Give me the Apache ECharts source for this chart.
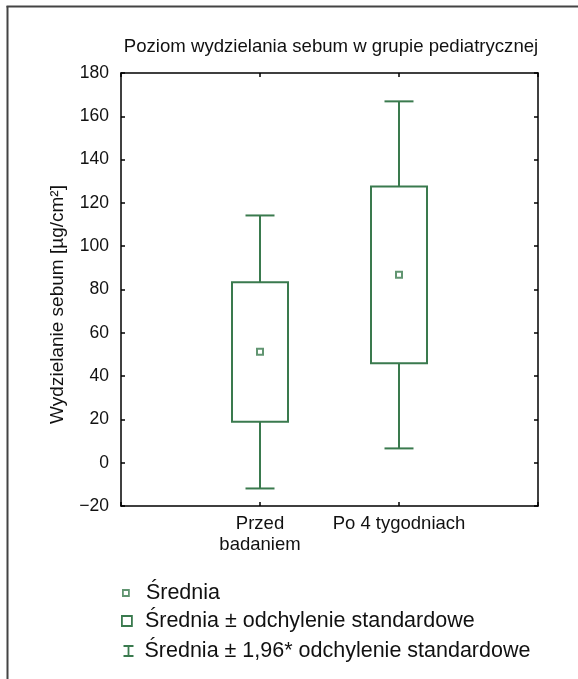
<!DOCTYPE html>
<html><head><meta charset="utf-8">
<script src="https://cdn.jsdelivr.net/npm/echarts@6/dist/echarts.min.js"></script>
<style>html,body{margin:0;padding:0;background:#fff}#c{width:578px;height:679px}</style>
</head><body><div id="c"></div>
<script>
// ---- data ----
const titleText = 'Poziom wydzielania sebum w grupie pediatrycznej';
const yAxisName = 'Wydzielanie sebum [µg/cm²]';
const categories = ['Przed\nbadaniem', 'Po 4 tygodniach'];
const categoryPositions = [1, 2];
const means  = [51.2, 86.8];
const sdLow  = [18.9, 45.9];
const sdHigh = [83.4, 127.6];
const ciLow  = [-11.9, 6.6];
const ciHigh = [114.2, 166.9];
const yMin = -20, yMax = 180, yStep = 20;
const legendNames = ['Średnia', 'Średnia ± odchylenie standardowe', 'Średnia ± 1,96* odchylenie standardowe'];

// ---- styling ----
const G = '#3a7a4e';
const FONT = '"Liberation Sans", Arial, sans-serif';
const chart = echarts.init(document.getElementById('c'), null, {renderer: 'canvas'});

const boxData = categoryPositions.map((p, i) => [p, sdLow[i], sdHigh[i]]);
const whiskerData = categoryPositions.map((p, i) => [p, ciLow[i], sdLow[i], sdHigh[i], ciHigh[i]]);
const meanData = categoryPositions.map((p, i) => [p, means[i]]);

const axisLine = {show: true, onZero: false, lineStyle: {color: '#000', width: 1.5}};
const tick = {show: true, inside: true, length: 4, lineStyle: {color: '#000', width: 1.5}};

const option = {
  animation: false,
  backgroundColor: '#fff',
  textStyle: {fontFamily: FONT},
  title: {
    text: titleText, left: 326, top: 32, textAlign: 'center',
    textStyle: {fontSize: 18.6, fontWeight: 'normal', color: '#111', fontFamily: FONT}
  },
  grid: {left: 121, right: 40, top: 73, bottom: 173, containLabel: false},
  xAxis: [{
    type: 'value', min: 0, max: 3, interval: 1, position: 'bottom',
    axisLine, axisTick: tick, splitLine: {show: false},
    axisLabel: {
      margin: 7, fontSize: 18.5, color: '#111', fontFamily: FONT, lineHeight: 21,
      formatter: v => { const i = categoryPositions.indexOf(v); return i >= 0 ? categories[i] : ''; }
    }
  }, {
    type: 'value', min: 0, max: 3, interval: 1, position: 'top',
    axisLine, axisTick: tick, axisLabel: {show: false}, splitLine: {show: false}
  }],
  yAxis: [{
    type: 'value', min: yMin, max: yMax, interval: yStep, position: 'left',
    axisLine, axisTick: tick, splitLine: {show: false},
    name: yAxisName, nameLocation: 'middle', nameGap: 54, nameRotate: 90,
    nameTextStyle: {fontSize: 19, color: '#111', fontFamily: FONT, padding: [0, 0, 0, -30]},
    axisLabel: {
      margin: 12, fontSize: 17.5, color: '#111', fontFamily: FONT,
      formatter: v => (v < 0 ? '\u2212' + Math.abs(v) : String(v))
    }
  }, {
    type: 'value', min: yMin, max: yMax, interval: yStep, position: 'right',
    axisLine, axisTick: tick, axisLabel: {show: false}, splitLine: {show: false}
  }],
  legend: [
    {
      data: [{name: legendNames[0], icon: 'rect'}], orient: 'vertical',
      left: 117, top: 577, itemWidth: 6, itemHeight: 6,
      itemStyle: {color: '#fff', borderColor: G, borderWidth: 1.8},
      textStyle: {fontSize: 21.5, color: '#111', fontFamily: FONT, padding: [0, 0, 0, 12]},
      selectedMode: false
    },
    {
      data: [{name: legendNames[1], icon: 'rect'}], orient: 'vertical',
      left: 116, top: 605, itemWidth: 10, itemHeight: 10,
      itemStyle: {color: '#fff', borderColor: G, borderWidth: 1.8},
      textStyle: {fontSize: 21.5, color: '#111', fontFamily: FONT, padding: [0, 0, 0, 8]},
      selectedMode: false
    },
    {
      data: [{name: legendNames[2], icon: 'path://M0,0L10,0M5,0L5,10M0,10L10,10'}], orient: 'vertical',
      left: 116, top: 635, itemWidth: 10, itemHeight: 10,
      itemStyle: {color: 'none', borderColor: G, borderWidth: 1.8},
      textStyle: {fontSize: 21.5, color: '#111', fontFamily: FONT, padding: [0, 0, 0, 6]},
      selectedMode: false
    }
  ],
  graphic: [
    {type: 'line', shape: {x1: 7.5, y1: 6, x2: 7.5, y2: 679}, style: {stroke: '#444', lineWidth: 2}, silent: true},
    {type: 'line', shape: {x1: 6.5, y1: 6.5, x2: 578, y2: 6.5}, style: {stroke: '#444', lineWidth: 2}, silent: true}
  ],
  series: [
    {
      name: legendNames[2], type: 'custom', data: whiskerData, z: 2,
      itemStyle: {color: G},
      renderItem: (params, api) => {
        const x = api.value(0);
        const pLo = api.coord([x, api.value(1)]);
        const pBoxLo = api.coord([x, api.value(2)]);
        const pBoxHi = api.coord([x, api.value(3)]);
        const pHi = api.coord([x, api.value(4)]);
        const cap = 14.5;
        const st = {stroke: G, lineWidth: 2, fill: null};
        return {type: 'group', children: [
          {type: 'line', shape: {x1: pHi[0], y1: pHi[1], x2: pBoxHi[0], y2: pBoxHi[1]}, style: st},
          {type: 'line', shape: {x1: pHi[0] - cap, y1: pHi[1], x2: pHi[0] + cap, y2: pHi[1]}, style: st},
          {type: 'line', shape: {x1: pBoxLo[0], y1: pBoxLo[1], x2: pLo[0], y2: pLo[1]}, style: st},
          {type: 'line', shape: {x1: pLo[0] - cap, y1: pLo[1], x2: pLo[0] + cap, y2: pLo[1]}, style: st}
        ]};
      }
    },
    {
      name: legendNames[1], type: 'custom', data: boxData, z: 3,
      itemStyle: {color: G},
      renderItem: (params, api) => {
        const x = api.value(0);
        const lo = api.coord([x, api.value(1)]);
        const hi = api.coord([x, api.value(2)]);
        const w = 56;
        return {type: 'rect', shape: {x: lo[0] - w / 2, y: hi[1], width: w, height: lo[1] - hi[1]},
          style: {fill: 'none', stroke: G, lineWidth: 2}};
      }
    },
    {
      name: legendNames[0], type: 'scatter', data: meanData, z: 4,
      symbol: 'rect', symbolSize: 6,
      itemStyle: {color: '#fff', borderColor: G, borderWidth: 2}
    }
  ]
};
chart.setOption(option);
</script>
</body></html>
